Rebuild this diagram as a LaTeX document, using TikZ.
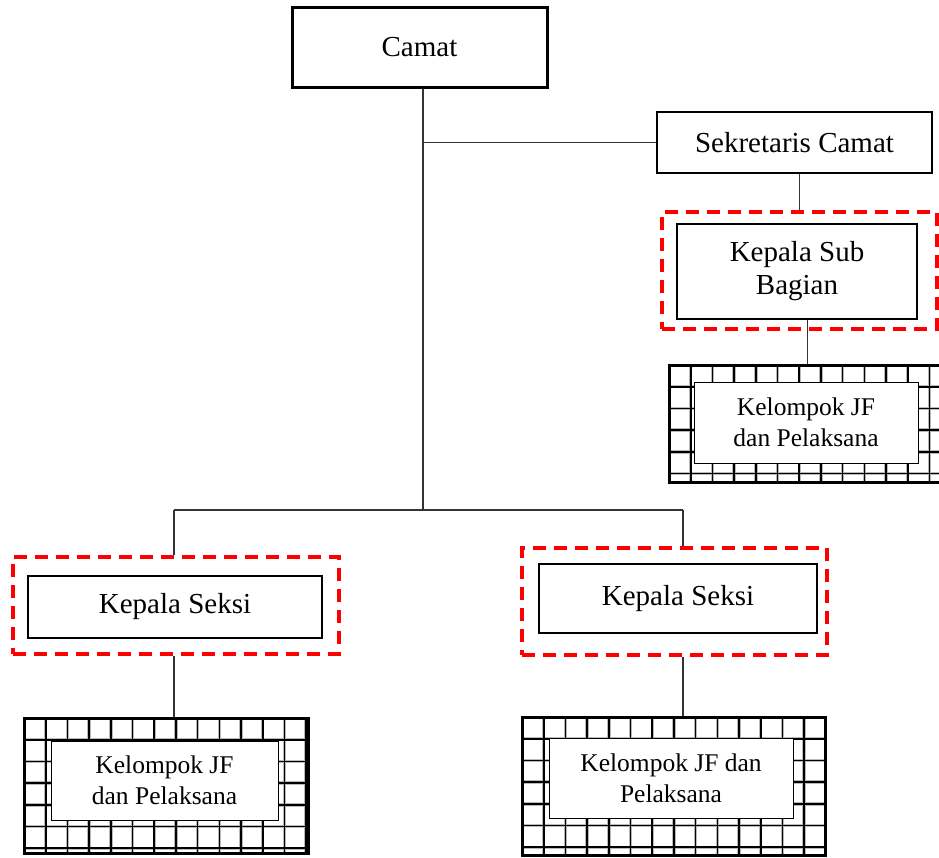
\documentclass[tikz,border=0pt]{standalone}
\usepackage{fontspec}
\setmainfont{Liberation Serif}
\usetikzlibrary{calc}
\definecolor{dashred}{RGB}{255,0,0}

\tikzset{
  post/.style={draw=black, line width=2.4pt, fill=white, inner sep=0pt,
    align=center, font=\fontsize{29}{33}\selectfont},
  chief/.style={post, line width=3pt},
  focus/.style={draw=dashred, line width=4pt, dash pattern=on 13pt off 8pt,
    inner sep=0pt},
  staff/.style={draw=black, line width=1pt, fill=white, inner sep=0pt,
    align=center, font=\fontsize{25.5}{31}\selectfont},
  gridpanel/.style={draw=black, line width=3pt, fill=white, inner sep=0pt,
    path picture={
      \foreach \k in {1,...,15}{
        \draw[gray!55, line width=3.4pt]
          ([xshift=\k*21.7pt]path picture bounding box.north west) --
          ([xshift=\k*21.7pt]path picture bounding box.south west);
      }
      \foreach \k in {1,...,7}{
        \draw[gray!55, line width=3.4pt]
          ([yshift=-\k*21.7pt]path picture bounding box.north west) --
          ([yshift=-\k*21.7pt]path picture bounding box.north east);
      }
      \foreach \k in {1,...,15}{
        \draw[black, line width=1.6pt]
          ([xshift=\k*21.7pt]path picture bounding box.north west) --
          ([xshift=\k*21.7pt]path picture bounding box.south west);
      }
      \foreach \k in {1,...,7}{
        \draw[black, line width=1.6pt]
          ([yshift=-\k*21.7pt]path picture bounding box.north west) --
          ([yshift=-\k*21.7pt]path picture bounding box.north east);
      }
    }},
  link/.style={draw=black!80, line width=1.3pt},
}

\begin{document}
\begin{tikzpicture}[x=1pt, y=-1pt]
  \useasboundingbox (0,0) rectangle (939,857);

  % head of the office and the secretariat
  \node[chief, minimum width=255pt, minimum height=80pt] (camat) at (419.5,47) {Camat};
  \node[post, minimum width=275pt, minimum height=61pt] (sek) at (794.5,142.5) {Sekretaris Camat};

  % sub-division head under the secretariat
  \node[focus, minimum width=275pt, minimum height=117pt] (ksubo) at (799.5,270.5) {};
  \node[post, minimum width=240pt, minimum height=95pt] (ksub) at (797,271.5) {Kepala Sub\\Bagian};

  % section heads
  \node[focus, minimum width=326pt, minimum height=97pt] (ks1o) at (176,605.5) {};
  \node[post, minimum width=294pt, minimum height=62pt] (ks1) at (175,607) {Kepala Seksi};
  \node[focus, minimum width=305pt, minimum height=107pt] (ks2o) at (674.5,601.5) {};
  \node[post, minimum width=278pt, minimum height=69pt] (ks2) at (678,598.5) {Kepala Seksi};

  % functional groups and staff
  \node[gridpanel, minimum width=277pt, minimum height=117pt] (jf1) at (807.5,423.5) {};
  \node[staff, minimum width=224pt, minimum height=81pt] (jf1t) at (806,422.5) {Kelompok JF\\dan Pelaksana};
  \node[gridpanel, minimum width=284pt, minimum height=135pt] (jf2) at (166,785.5) {};
  \node[staff, minimum width=227pt, minimum height=79pt] (jf2t) at (164.5,780.5) {Kelompok JF\\dan Pelaksana};
  \node[gridpanel, minimum width=303pt, minimum height=138pt] (jf3) at (673.5,786) {};
  \node[staff, minimum width=244pt, minimum height=80pt] (jf3t) at (671,778) {Kelompok JF dan\\Pelaksana};

  % connectors
  \coordinate (trunk) at (423,510);
  \coordinate (bl) at (174,510);
  \coordinate (br) at (683,510);
  \draw[link] (camat.south -| trunk) -- (trunk);
  \draw[link] (sek.west -| trunk) -- (sek.west);
  \draw[link] (ksubo.north |- sek.south) -- (ksubo.north);
  \draw[link] (jf1.north |- ksub.south) -- (jf1.north);
  \draw[link] (bl) -- (br);
  \draw[link] (bl) -- (bl |- ks1o.north);
  \draw[link] (br) -- (br |- ks2o.north);
  \draw[link] (bl |- ks1o.south) -- (bl |- jf2.north);
  \draw[link] (br |- ks2o.south) -- (br |- jf3.north);
\end{tikzpicture}
\end{document}
